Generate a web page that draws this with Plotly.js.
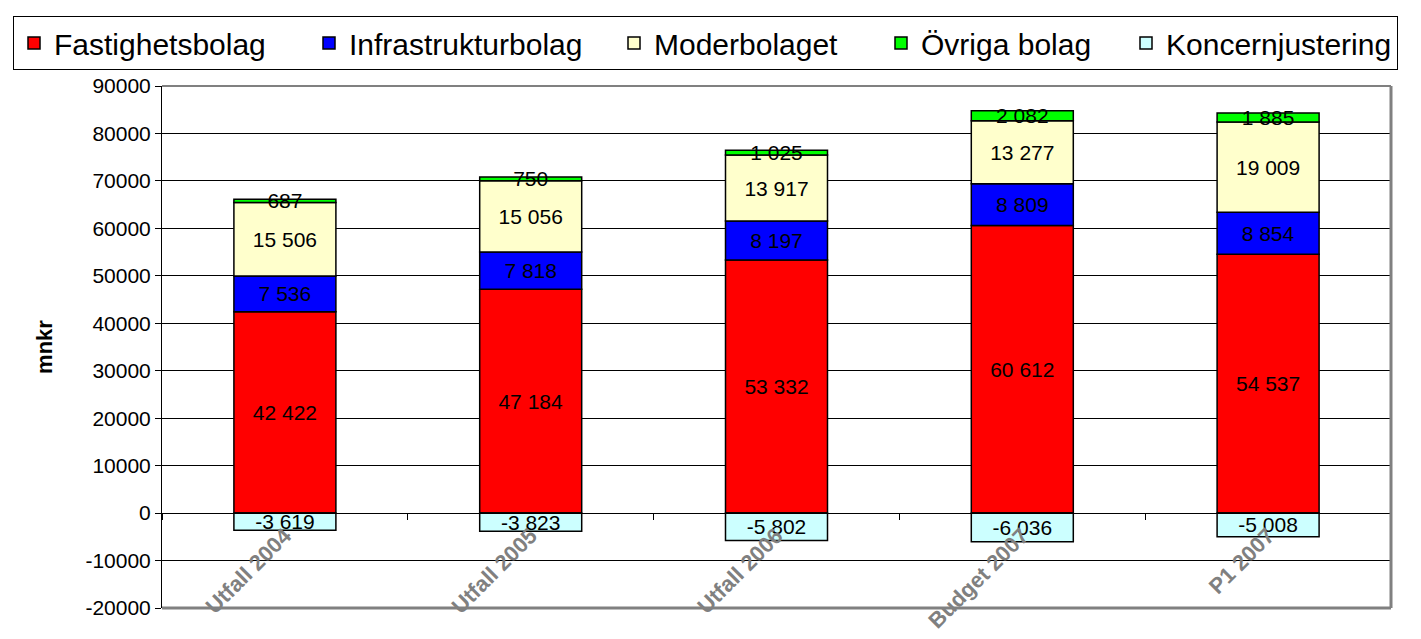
<!DOCTYPE html>
<html>
<head>
<meta charset="utf-8">
<script src="https://cdn.plot.ly/plotly-3.0.1.min.js"></script>
<style>html,body{margin:0;padding:0;background:#fff;}#chart{width:1421px;height:639px;}</style>
</head>
<body>
<div id="chart"></div>
<script>
const categories = ["Utfall 2004", "Utfall 2005", "Utfall 2006", "Budget 2007", "P1 2007"];
const fastighetsbolag = [42422, 47184, 53332, 60612, 54537];
const infrastrukturbolag = [7536, 7818, 8197, 8809, 8854];
const moderbolaget = [15506, 15056, 13917, 13277, 19009];
const ovrigaBolag = [687, 750, 1025, 2082, 1885];
const koncernjustering = [-3619, -3823, -5802, -6036, -5008];

const yTickValues = [-20000, -10000, 0, 10000, 20000, 30000, 40000, 50000, 60000, 70000, 80000, 90000];
const yTickLabels = ["-20000", "-10000", "0", "10000", "20000", "30000", "40000", "50000", "60000", "70000", "80000", "90000"];

const seriesNames = ["Fastighetsbolag", "Infrastrukturbolag", "Moderbolaget", "Övriga bolag", "Koncernjustering"];
const seriesValues = [fastighetsbolag, infrastrukturbolag, moderbolaget, ovrigaBolag, koncernjustering];
const seriesColors = ["#FF0000", "#0000FF", "#FFFFCC", "#00FF00", "#CCFFFF"];
const legendWidths = [250, 260, 222, 200, 0];

function fmt(v) {
  const s = Math.abs(v).toString().replace(/\B(?=(\d{3})+(?!\d))/g, " ");
  return (v < 0 ? "-" : "") + s;
}

const FONT = "Liberation Sans, Arial, sans-serif";

const traces = seriesValues.map((vals, i) => {
  const t = {
    type: "bar",
    name: seriesNames[i],
    x: categories,
    y: vals,
    width: 0.415,
    marker: {color: seriesColors[i], line: {color: "#000000", width: 1.5}},
    text: vals.map(fmt),
    textposition: "inside",
    insidetextanchor: "middle",
    textangle: 0,
    textfont: {family: FONT, size: 21, color: "#000000"},
    cliponaxis: false,
    hoverinfo: "none"
  };
  if (legendWidths[i]) t.legendwidth = legendWidths[i];
  return t;
});

const W = 1421, H = 639;
const M = {l: 162, r: 30, t: 86, b: 31};
const plotW = W - M.l - M.r, plotH = H - M.t - M.b;
const yMin = -20000, yMax = 90000;

const layout = {
  width: W,
  height: H,
  margin: M,
  paper_bgcolor: "#ffffff",
  plot_bgcolor: "#ffffff",
  barmode: "relative",
  font: {family: FONT, color: "#000000"},
  uniformtext: {mode: "show", minsize: 21},
  showlegend: true,
  legend: {
    orientation: "h",
    xref: "paper", yref: "paper",
    x: (13 - M.l) / plotW,
    y: (H - M.b - 16) / plotH,
    xanchor: "left", yanchor: "top",
    bordercolor: "#000000", borderwidth: 1,
    font: {family: FONT, size: 30, color: "#000000"},
    traceorder: "normal",
    itemclick: false
  },
  xaxis: {
    type: "category",
    anchor: "free",
    position: (0 - yMin) / (yMax - yMin),
    showline: true, linecolor: "#000000", linewidth: 1,
    ticks: "outside", tickson: "boundaries", ticklen: 6, tickcolor: "#000000",
    tickangle: -45,
    tickfont: {family: FONT, size: 22, color: "#808080", weight: "bold"},
    showgrid: false, zeroline: false,
    automargin: false
  },
  yaxis: {
    range: [yMin, yMax],
    tickmode: "array",
    tickvals: yTickValues,
    ticktext: yTickLabels,
    showline: true, linecolor: "#000000", linewidth: 1,
    ticks: "outside", ticklen: 6, tickcolor: "#000000",
    tickfont: {family: FONT, size: 21, color: "#000000"},
    showgrid: true, gridcolor: "#000000", gridwidth: 1,
    zeroline: false,
    automargin: false,
    title: {text: "mnkr", font: {family: FONT, size: 22, color: "#000000", weight: "bold"}, standoff: 26}
  },
  shapes: [
    {type: "line", xref: "paper", yref: "paper", x0: 0, x1: 1, y0: 1, y1: 1, line: {color: "#808080", width: 2}, layer: "above"},
    {type: "line", xref: "paper", yref: "paper", x0: 1, x1: 1, y0: 0, y1: 1, line: {color: "#808080", width: 3}, layer: "above"},
    {type: "line", xref: "paper", yref: "paper", x0: 0, x1: 1, y0: 0, y1: 0, line: {color: "#808080", width: 3}, layer: "above"}
  ]
};

Plotly.newPlot("chart", traces, layout, {displayModeBar: false, staticPlot: true});
</script>
</body>
</html>
